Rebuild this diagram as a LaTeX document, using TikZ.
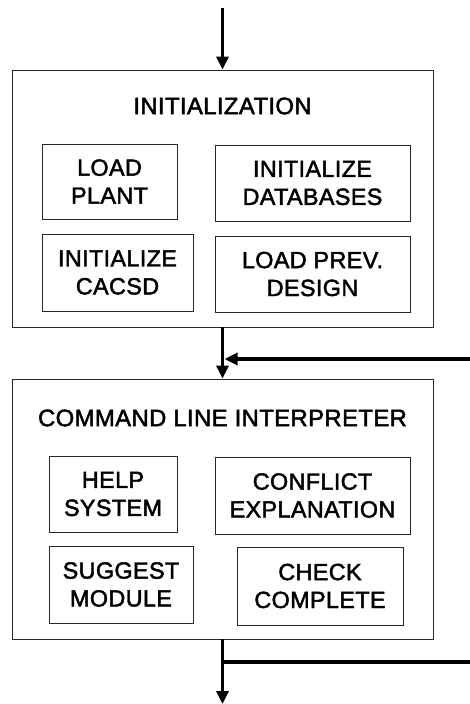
\documentclass[tikz,border=0pt]{standalone}
\usepackage{fontspec}
\setmainfont{Liberation Sans}
\newfontfamily\labelfont{Liberation Sans}[FakeBold=2,LetterSpace=1.5]
\usetikzlibrary{arrows.meta}
\begin{document}
\begin{tikzpicture}[x=1bp,y=-1bp,
  outer/.style={draw=black!85,line width=0.9bp,minimum width=421bp,inner sep=0pt},
  inner/.style={draw=black!85,line width=0.9bp,inner sep=0pt,align=center,
                font=\labelfont\fontsize{23.5}{28}\selectfont},
  title/.style={inner sep=0pt,font=\labelfont\fontsize{24}{28}\selectfont},
  flow/.style={line width=3.2bp,-{Triangle[length=13bp,width=12bp]}},
  plain/.style={line width=3.2bp}]
\useasboundingbox (0,0) rectangle (470,704);

% initialization block
\node[outer,minimum height=257bp] (b1) at (222.5,198.5) {};
\node[title] (t1) at (222.5,106) {INITIALIZATION};
\node[inner,minimum width=135bp,minimum height=75bp] (lp)  at (109.5,181.5) {LOAD\\PLANT};
\node[inner,minimum width=195bp,minimum height=76bp] (idb) at (312.5,183) {INITIALIZE\\DATABASES};
\node[inner,minimum width=151bp,minimum height=77bp] (ic)  at (117.5,272.5) {INITIALIZE\\CACSD};
\node[inner,minimum width=195bp,minimum height=76bp] (lpd) at (312.5,274) {LOAD PREV.\\DESIGN};

% command line interpreter block
\node[outer,minimum height=260bp] (b2) at (222.5,509) {};
\node[title] (t2) at (222.5,418) {COMMAND LINE INTERPRETER};
\node[inner,minimum width=128bp,minimum height=76bp] (hs) at (113,494) {HELP\\SYSTEM};
\node[inner,minimum width=195bp,minimum height=77bp] (ce) at (312.5,495.5) {CONFLICT\\EXPLANATION};
\node[inner,minimum width=144bp,minimum height=77bp] (sm) at (121,584.5) {SUGGEST\\MODULE};
\node[inner,minimum width=166bp,minimum height=78bp] (cc) at (320,586) {CHECK\\COMPLETE};

% entry, feedback and exit paths
\coordinate (start) at (222.5,8);
\coordinate (fbin) at (470,359);
\coordinate (fbend) at (224.5,359);
\coordinate (br) at (222.5,662);
\coordinate (brout) at (470,662);
\coordinate (exit) at (222.5,704);

\draw[flow] (start) -- (b1.north);
\draw[flow] (b1.south) -- (b2.north);
\draw[flow] (fbin) -- (fbend);
\draw[flow] (b2.south) -- (exit);
\draw[plain] (br) -- (brout);
\end{tikzpicture}
\end{document}
